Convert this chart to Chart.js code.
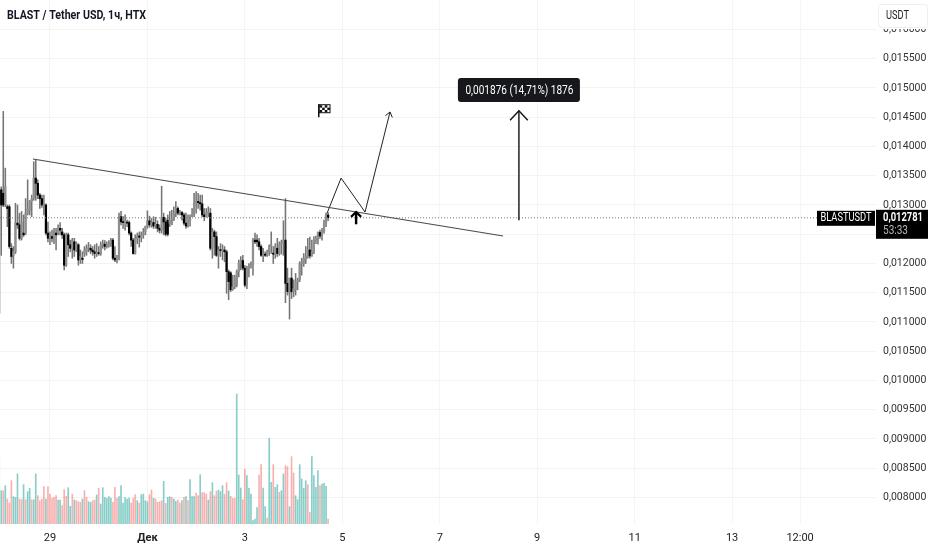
<!DOCTYPE html>
<html>
<head>
<meta charset="utf-8">
<title>BLASTUSDT</title>
<script src="https://cdn.jsdelivr.net/npm/chart.js@4/dist/chart.umd.min.js"></script>
<style>
    body { margin: 0; background: #ffffff; overflow: hidden; }
    canvas { display: block; }
</style>
</head>
<body>
<canvas id="priceChart" width="932" height="550"></canvas>
<script>
// hourly candles, oldest first
const opens = [0.01115,0.01326,0.01320,0.01300,0.01297,0.01297,0.01226,0.01214,0.01220,0.01269,0.01266,0.01243,0.01252,0.01252,0.01286,0.01291,0.01306,0.01311,0.01346,0.01337,0.01317,0.01311,0.01300,0.01300,0.01252,0.01243,0.01246,0.01243,0.01252,0.01252,0.01260,0.01254,0.01249,0.01197,0.01249,0.01232,0.01226,0.01237,0.01223,0.01232,0.01206,0.01209,0.01216,0.01220,0.01226,0.01226,0.01223,0.01220,0.01217,0.01218,0.01217,0.01232,0.01233,0.01229,0.01232,0.01234,0.01240,0.01209,0.01206,0.01207,0.01280,0.01271,0.01270,0.01270,0.01270,0.01252,0.01240,0.01217,0.01243,0.01247,0.01245,0.01249,0.01254,0.01263,0.01273,0.01266,0.01270,0.01264,0.01267,0.01260,0.01257,0.01279,0.01271,0.01274,0.01269,0.01267,0.01275,0.01286,0.01294,0.01286,0.01287,0.01283,0.01269,0.01266,0.01273,0.01280,0.01283,0.01303,0.01306,0.01304,0.01302,0.01283,0.01280,0.01286,0.01286,0.01226,0.01254,0.01246,0.01214,0.01223,0.01222,0.01223,0.01220,0.01186,0.01184,0.01155,0.01160,0.01163,0.01186,0.01200,0.01205,0.01192,0.01163,0.01192,0.01196,0.01199,0.01240,0.01240,0.01237,0.01229,0.01214,0.01216,0.01214,0.01220,0.01229,0.01217,0.01216,0.01226,0.01217,0.01233,0.01234,0.01240,0.01166,0.01149,0.01175,0.01152,0.01155,0.01169,0.01172,0.01200,0.01200,0.01206,0.01212,0.01223,0.01213,0.01220,0.01240,0.01241,0.01253,0.01247,0.01254,0.01269,0.01283];
const closes = [0.01297,0.01300,0.01300,0.01332,0.01294,0.01229,0.01212,0.01220,0.01269,0.01266,0.01243,0.01271,0.01249,0.01286,0.01294,0.01306,0.01311,0.01346,0.01337,0.01317,0.01311,0.01300,0.01302,0.01252,0.01243,0.01249,0.01243,0.01254,0.01249,0.01260,0.01257,0.01249,0.01197,0.01249,0.01232,0.01226,0.01240,0.01223,0.01234,0.01206,0.01212,0.01207,0.01223,0.01226,0.01228,0.01223,0.01220,0.01217,0.01218,0.01217,0.01232,0.01234,0.01229,0.01232,0.01234,0.01240,0.01209,0.01206,0.01207,0.01280,0.01271,0.01270,0.01271,0.01269,0.01252,0.01240,0.01217,0.01243,0.01247,0.01245,0.01249,0.01252,0.01263,0.01273,0.01266,0.01270,0.01264,0.01267,0.01260,0.01257,0.01279,0.01271,0.01250,0.01250,0.01274,0.01275,0.01286,0.01294,0.01286,0.01287,0.01283,0.01269,0.01264,0.01273,0.01280,0.01283,0.01303,0.01306,0.01304,0.01302,0.01283,0.01280,0.01286,0.01287,0.01226,0.01254,0.01246,0.01214,0.01223,0.01222,0.01223,0.01220,0.01186,0.01169,0.01155,0.01160,0.01177,0.01186,0.01200,0.01205,0.01192,0.01163,0.01192,0.01196,0.01199,0.01240,0.01237,0.01237,0.01229,0.01214,0.01217,0.01214,0.01220,0.01229,0.01232,0.01216,0.01229,0.01217,0.01233,0.01236,0.01240,0.01166,0.01152,0.01175,0.01152,0.01157,0.01169,0.01170,0.01200,0.01203,0.01209,0.01212,0.01223,0.01213,0.01220,0.01240,0.01243,0.01253,0.01247,0.01254,0.01269,0.01283,0.012781];
const highs = [0.01394,0.01331,0.01460,0.01363,0.01300,0.01300,0.01234,0.01229,0.01303,0.01300,0.01286,0.01289,0.01283,0.01311,0.01343,0.01308,0.01317,0.01374,0.01377,0.01343,0.01320,0.01317,0.01317,0.01302,0.01271,0.01254,0.01257,0.01260,0.01260,0.01266,0.01270,0.01260,0.01252,0.01252,0.01252,0.01240,0.01243,0.01243,0.01237,0.01234,0.01223,0.01220,0.01229,0.01232,0.01236,0.01232,0.01229,0.01232,0.01234,0.01229,0.01237,0.01240,0.01239,0.01237,0.01239,0.01243,0.01243,0.01229,0.01214,0.01286,0.01289,0.01280,0.01283,0.01274,0.01273,0.01254,0.01243,0.01249,0.01252,0.01254,0.01254,0.01260,0.01264,0.01290,0.01281,0.01277,0.01280,0.01279,0.01273,0.01266,0.01332,0.01286,0.01277,0.01283,0.01289,0.01291,0.01297,0.01306,0.01297,0.01291,0.01289,0.01286,0.01286,0.01283,0.01283,0.01294,0.01320,0.01323,0.01320,0.01317,0.01317,0.01294,0.01294,0.01297,0.01294,0.01260,0.01257,0.01254,0.01229,0.01234,0.01232,0.01229,0.01223,0.01189,0.01186,0.01180,0.01180,0.01189,0.01206,0.01212,0.01214,0.01197,0.01195,0.01200,0.01203,0.01243,0.01252,0.01249,0.01243,0.01232,0.01226,0.01220,0.01223,0.01232,0.01254,0.01229,0.01234,0.01243,0.01237,0.01240,0.01273,0.01311,0.01192,0.01175,0.01192,0.01172,0.01183,0.01175,0.01203,0.01209,0.01217,0.01229,0.01243,0.01245,0.01240,0.01246,0.01247,0.01254,0.01257,0.01260,0.01274,0.01286,0.01287];
const lows = [0.01106,0.01214,0.01297,0.01297,0.01263,0.01226,0.01200,0.01192,0.01217,0.01260,0.01240,0.01240,0.01246,0.01249,0.01283,0.01283,0.01280,0.01308,0.01308,0.01311,0.01294,0.01296,0.01283,0.01249,0.01237,0.01232,0.01237,0.01234,0.01223,0.01249,0.01249,0.01243,0.01189,0.01195,0.01212,0.01220,0.01209,0.01212,0.01220,0.01197,0.01200,0.01200,0.01212,0.01214,0.01220,0.01217,0.01214,0.01209,0.01212,0.01214,0.01214,0.01226,0.01223,0.01226,0.01228,0.01229,0.01206,0.01203,0.01201,0.01206,0.01266,0.01260,0.01257,0.01263,0.01249,0.01229,0.01216,0.01216,0.01234,0.01228,0.01237,0.01243,0.01249,0.01260,0.01262,0.01262,0.01260,0.01260,0.01254,0.01252,0.01252,0.01249,0.01247,0.01247,0.01263,0.01266,0.01273,0.01280,0.01283,0.01283,0.01274,0.01266,0.01260,0.01262,0.01264,0.01280,0.01280,0.01286,0.01294,0.01291,0.01280,0.01273,0.01279,0.01280,0.01223,0.01209,0.01214,0.01212,0.01192,0.01212,0.01206,0.01203,0.01149,0.01138,0.01152,0.01154,0.01157,0.01160,0.01177,0.01189,0.01189,0.01160,0.01157,0.01177,0.01192,0.01180,0.01234,0.01229,0.01223,0.01212,0.01203,0.01212,0.01212,0.01214,0.01217,0.01200,0.01209,0.01212,0.01214,0.01216,0.01214,0.01133,0.01146,0.01105,0.01140,0.01143,0.01146,0.01155,0.01169,0.01180,0.01195,0.01200,0.01209,0.01209,0.01212,0.01217,0.01234,0.01233,0.01243,0.01240,0.01252,0.01263,0.01273];

// volume in arbitrary units, volumeUp 1 = teal bar, 0 = red bar
const volumes = [200,100,100,115,75,63,130,82,80,150,75,73,118,73,97,107,73,73,150,85,70,75,112,75,112,90,77,80,85,72,72,55,103,83,109,53,90,72,70,67,65,75,100,80,67,65,70,72,87,107,60,109,80,77,82,78,65,110,77,82,115,63,79,75,78,63,77,88,70,63,88,90,70,67,88,102,77,75,65,67,70,128,62,80,82,80,75,68,72,63,70,80,82,70,133,82,82,93,85,148,94,94,90,72,97,124,85,99,102,97,115,89,124,99,83,77,77,390,147,108,73,165,145,107,90,10,15,49,147,178,108,52,18,257,125,178,110,118,95,100,150,175,172,52,202,153,85,73,178,135,107,130,118,35,202,145,110,160,115,120,122,113,15];
const volumeUp = [1,1,0,1,0,0,0,1,1,1,0,0,1,0,1,1,0,1,1,0,0,0,0,1,0,0,0,0,0,1,1,0,0,0,1,1,0,1,0,0,0,1,0,0,1,1,0,0,1,0,1,1,1,1,1,1,0,0,0,1,1,1,1,1,1,0,0,0,1,0,1,1,1,1,0,0,1,0,0,0,0,1,0,1,1,0,1,1,0,0,1,0,1,0,1,1,1,0,0,1,0,0,0,1,0,1,0,0,1,1,1,0,0,1,0,0,0,1,1,1,0,0,1,1,1,1,1,1,0,0,1,1,0,1,1,0,1,1,0,1,1,0,0,1,0,0,1,1,1,1,1,1,0,0,1,1,1,1,0,1,1,1,0];

// axis ticks
const priceTicks = [0.008,0.0085,0.009,0.0095,0.01,0.0105,0.011,0.0115,0.012,0.0125,0.013,0.0135,0.014,0.0145,0.015,0.0155,0.016];
const timeTickPositions = [25,73,121,169,217,265,313,361,394.5];
const timeTickLabels = ["29","Дек","3","5","7","9","11","13","12:00"];

// drawings on top of the candles, x in hours from the first candle
const trendX = [16.6,248.2];
const trendY = [0.013786,0.01247];
const zigzagX = [161.5,168.4,180.2,192.5];
const zigzagY = [0.01286,0.01346,0.01288,0.01459];
const moveX = [256,256];
const moveY = [0.01274,0.01461];
const markerX = [175.8,175.8];
const markerY = [0.01267,0.01288];
const flagSpot = [160,0.01462];
const lastPrice = 0.012781;
const lastPriceLine = [0.4,403.3];

const moveLabel = "0,001876 (14,71%) 1876";
const priceLabel = "0,012781";
const countdown = "53:33";
const symbolLabel = "BLASTUSDT";
const titleText = "BLAST / Tether USD, 1ч, HTX";

const labelFont = "Roboto, sans-serif";

function pairs(xs, ys) {
    return xs.map((x, i) => ({ x: x, y: ys[i] }));
}

// little V at the end of a line
function drawHead(ctx, x0, y0, x1, y1, size, spread, width, color) {
    let angle = Math.atan2(y1 - y0, x1 - x0);
    ctx.beginPath();
    ctx.moveTo(x1 - size * Math.cos(angle - spread), y1 - size * Math.sin(angle - spread));
    ctx.lineTo(x1, y1);
    ctx.lineTo(x1 - size * Math.cos(angle + spread), y1 - size * Math.sin(angle + spread));
    ctx.strokeStyle = color;
    ctx.lineWidth = width;
    ctx.stroke();
}

const overlays = {
    id: "overlays",
    afterDraw(chart) {
        let ctx = chart.ctx;
        let x = chart.scales.x;
        let y = chart.scales.y;
        ctx.save();

        // arrow heads
        let n = zigzagX.length - 1;
        drawHead(ctx, x.getPixelForValue(zigzagX[n - 1]), y.getPixelForValue(zigzagY[n - 1]),
            x.getPixelForValue(zigzagX[n]), y.getPixelForValue(zigzagY[n]), 6, 0.65, 1, "#222222");
        drawHead(ctx, x.getPixelForValue(moveX[0]), y.getPixelForValue(moveY[0]),
            x.getPixelForValue(moveX[1]), y.getPixelForValue(moveY[1]), 13, 0.75, 1.4, "#111111");
        drawHead(ctx, x.getPixelForValue(markerX[0]), y.getPixelForValue(markerY[0]),
            x.getPixelForValue(markerX[1]), y.getPixelForValue(markerY[1]), 7, 0.8, 2.2, "#000000");

        // flag
        let fx = x.getPixelForValue(flagSpot[0]);
        let fy = y.getPixelForValue(flagSpot[1]);
        ctx.fillStyle = "#111111";
        ctx.fillRect(fx - 6, fy - 6, 1.5, 13);
        ctx.strokeStyle = "#111111";
        ctx.lineWidth = 1;
        ctx.strokeRect(fx - 5, fy - 5.5, 11, 8);
        for (let r = 0; r < 3; r++) {
            for (let c = 0; c < 4; c++) {
                if ((r + c) % 2 == 0) ctx.fillRect(fx - 4.5 + c * 2.6, fy - 5 + r * 2.4, 2.6, 2.4);
            }
        }

        // measure label
        let mx = x.getPixelForValue(moveX[1]);
        ctx.fillStyle = "#17181c";
        ctx.beginPath();
        ctx.roundRect(mx - 61, 78, 122, 24, 3);
        ctx.fill();
        ctx.fillStyle = "#ffffff";
        ctx.font = "12px " + labelFont;
        ctx.textAlign = "center";
        ctx.textBaseline = "middle";
        ctx.fillText(moveLabel, mx + 0.5, 90.5, 108);

        // last price tags
        let py = y.getPixelForValue(lastPrice);
        ctx.fillStyle = "#000000";
        ctx.fillRect(817, py - 7, 58, 15);
        ctx.fillRect(876, py - 8, 52, 29);
        ctx.fillStyle = "#ffffff";
        ctx.font = "12px " + labelFont;
        ctx.fillText(symbolLabel, 846, py + 0.5, 51);
        ctx.textAlign = "left";
        ctx.font = "bold 12px " + labelFont;
        ctx.fillText(priceLabel, 883, py + 0.5, 40);
        ctx.fillStyle = "#b4b4b4";
        ctx.font = "12px " + labelFont;
        ctx.fillText(countdown, 883, py + 13, 25);

        // currency button covers the top tick
        ctx.fillStyle = "#ffffff";
        ctx.fillRect(876, 0, 56, 29);
        ctx.strokeStyle = "#eeeeee";
        ctx.beginPath();
        ctx.roundRect(878.5, 4.5, 49, 23, 3);
        ctx.stroke();
        ctx.fillStyle = "#222222";
        ctx.font = "12px " + labelFont;
        ctx.fillText("USDT", 886, 16, 23);

        // title
        ctx.fillStyle = "#131722";
        ctx.font = "bold 12px " + labelFont;
        ctx.fillText(titleText, 7, 16, 139);
        ctx.restore();
    }
};

const hours = opens.map((o, i) => i);

let priceChart = new Chart("priceChart", {
    type: "bar",
    data: {
        datasets: [
            {
                type: "line", data: pairs(trendX, trendY), borderColor: "#4a4a4a", borderWidth: 1.1,
                pointRadius: 0, order: 1
            },
            {
                type: "line", data: pairs(zigzagX, zigzagY), borderColor: "#222222", borderWidth: 1,
                pointRadius: 0, order: 1
            },
            {
                type: "line", data: pairs(moveX, moveY), borderColor: "#111111", borderWidth: 1.4,
                pointRadius: 0, order: 1
            },
            {
                type: "line", data: pairs(markerX, markerY), borderColor: "#000000", borderWidth: 2.4,
                pointRadius: 0, order: 1
            },
            {
                type: "line", data: pairs(lastPriceLine, [lastPrice, lastPrice]), borderColor: "#777777",
                borderWidth: 1, borderDash: [1, 2], pointRadius: 0, order: 2
            },
            {
                // candle bodies
                data: hours.map(i => ({ x: i, y: [Math.min(opens[i], closes[i]), Math.max(opens[i], closes[i])] })),
                backgroundColor: hours.map(i => closes[i] >= opens[i] ? "#8f8f8f" : "#000000"),
                barThickness: 1.6, minBarLength: 1, grouped: false, order: 3
            },
            {
                // wicks
                data: hours.map(i => ({ x: i, y: [lows[i], highs[i]] })),
                backgroundColor: "#757575",
                barThickness: 0.9, grouped: false, order: 4
            },
            {
                // volume along the bottom on its own hidden axis
                yAxisID: "yVolume",
                data: hours.map(i => ({ x: i, y: volumes[i] })),
                backgroundColor: hours.map(i => volumeUp[i] ? "rgba(38,166,154,0.55)" : "rgba(239,83,80,0.45)"),
                barThickness: 1, grouped: false, order: 5
            }
        ]
    },
    options: {
        responsive: false,
        animation: false,
        layout: { padding: 0 },
        plugins: { legend: { display: false }, tooltip: { enabled: false } },
        scales: {
            x: {
                type: "linear",
                offset: false,
                min: 0.384,
                max: 431.9,
                grid: { offset: false, color: "#f5f5f6", drawTicks: false },
                border: { display: false },
                afterBuildTicks: axis => { axis.ticks = timeTickPositions.map(v => ({ value: v })); },
                afterFit: axis => { axis.height = 26; axis.paddingLeft = 0; axis.paddingRight = 0; },
                ticks: {
                    autoSkip: false,
                    maxRotation: 0,
                    padding: 8,
                    color: "#222222",
                    font: ctx => ({
                        family: labelFont,
                        size: 11,
                        weight: ctx.tick && ctx.tick.value == 73 ? "bold" : "normal"
                    }),
                    callback: value => timeTickLabels[timeTickPositions.indexOf(value)]
                }
            },
            y: {
                position: "right",
                min: 0.007547,
                max: 0.016504,
                grid: { color: "#f3f3f4", drawTicks: false },
                border: { display: false },
                afterBuildTicks: axis => { axis.ticks = priceTicks.map(v => ({ value: v })); },
                // no room kept for half a label above the top tick
                afterFit: axis => { axis.width = 56; axis.paddingTop = 0; axis.paddingBottom = 0; },
                ticks: {
                    padding: 7,
                    color: "#333333",
                    font: { family: labelFont, size: 10.5 },
                    callback: value => value.toFixed(6).replace(".", ",")
                }
            },
            yVolume: { display: false, min: 0, max: 1572 }
        }
    },
    plugins: [overlays]
});
</script>
</body>
</html>
